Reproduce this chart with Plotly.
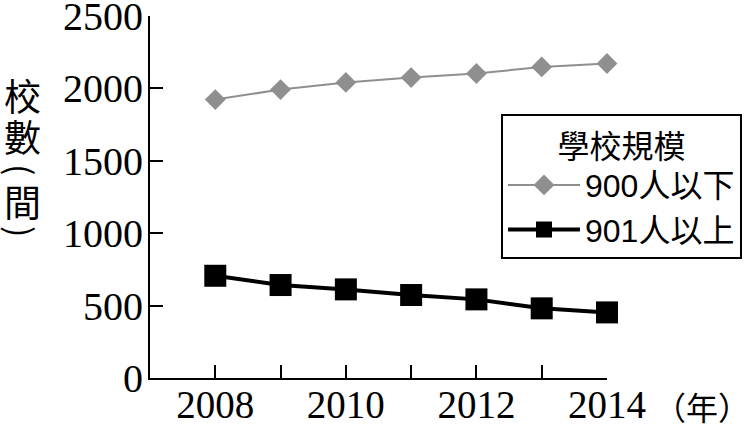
import plotly.graph_objects as go

years = [2008, 2009, 2010, 2011, 2012, 2013, 2014]
small_schools = [1923, 1992, 2041, 2075, 2103, 2148, 2172]   # 900人以下
large_schools = [706, 642, 612, 573, 543, 481, 453]          # 901人以上
x_tick_text = ["2008", "", "2010", "", "2012", "", "2014"]
y_ticks = [0, 500, 1000, 1500, 2000, 2500]

serif = "Liberation Serif, Times New Roman, serif"
sans = "Liberation Sans, Noto Sans CJK TC, sans-serif"
cjk = "Noto Sans CJK TC, sans-serif"

fig = go.Figure()
fig.add_trace(go.Scatter(
    x=years, y=small_schools, name="900人以下", mode="lines+markers",
    line=dict(color="#8f8f8f", width=2),
    marker=dict(symbol="diamond", size=16, color="#8f8f8f"),
    cliponaxis=False,
))
fig.add_trace(go.Scatter(
    x=years, y=large_schools, name="901人以上", mode="lines+markers",
    line=dict(color="black", width=4),
    marker=dict(symbol="square", size=22, color="black"),
    cliponaxis=False,
))

# plot area in page pixels
L, R, T, B = 150, 607, 16, 378
W, H = 754, 432


def px_x(px):
    return (px - L) / (R - L)


def px_y(py):
    return (B - py) / (B - T)


fig.update_layout(
    width=W, height=H,
    margin=dict(l=L, r=W - R, t=T, b=H - B, autoexpand=False),
    paper_bgcolor="white", plot_bgcolor="white",
    showlegend=True,
    legend=dict(
        title=dict(text="學校規模", side="top center", font=dict(family=sans, size=32, color="black")),
        font=dict(family=sans, size=32, color="black"),
        x=px_x(501), y=px_y(114), xanchor="left", yanchor="top",
        bordercolor="black", borderwidth=2, bgcolor="white",
        itemwidth=72, tracegroupgap=0,
    ),
    xaxis=dict(
        range=[2007, 2014], tickvals=years, ticktext=x_tick_text,
        ticks="inside", ticklen=13, tickwidth=2, tickcolor="black",
        showline=True, linecolor="black", linewidth=2,
        showgrid=False, zeroline=False, automargin=False,
        ticklabeloverflow="allow", ticklabelstandoff=-9,
        tickfont=dict(family=serif, size=39, color="black"),
    ),
    yaxis=dict(
        range=[0, 2500], tickvals=y_ticks,
        ticks="inside", ticklen=13, tickwidth=2, tickcolor="black",
        showline=True, linecolor="black", linewidth=2,
        showgrid=False, zeroline=False, automargin=False,
        ticklabeloverflow="allow", ticklabelstandoff=-3,
        tickfont=dict(family=serif, size=40, color="black"),
    ),
)

# vertical y-axis title 校數（間）: characters stacked, brackets turned sideways
label_parts = [("校", 95, 0), ("數", 136, 0), ("(", 170, 90), ("間", 201, 0), (")", 232, 90)]
for ch, py, angle in label_parts:
    fig.add_annotation(
        text=ch, xref="paper", yref="paper", x=px_x(22), y=px_y(py),
        showarrow=False, xanchor="center", yanchor="middle", textangle=angle,
        font=dict(family=cjk, size=37 if angle == 0 else 34, color="black"),
    )

fig.add_annotation(
    text="（年）", xref="paper", yref="paper", x=px_x(702), y=px_y(406),
    showarrow=False, xanchor="center", yanchor="middle",
    font=dict(family=cjk, size=32, color="black"),
)

# drop the page's default body margin so the figure sits at the window corner
fig.write_html("out.html", config={"displayModeBar": False},
               post_script="document.body.style.margin='0';")
